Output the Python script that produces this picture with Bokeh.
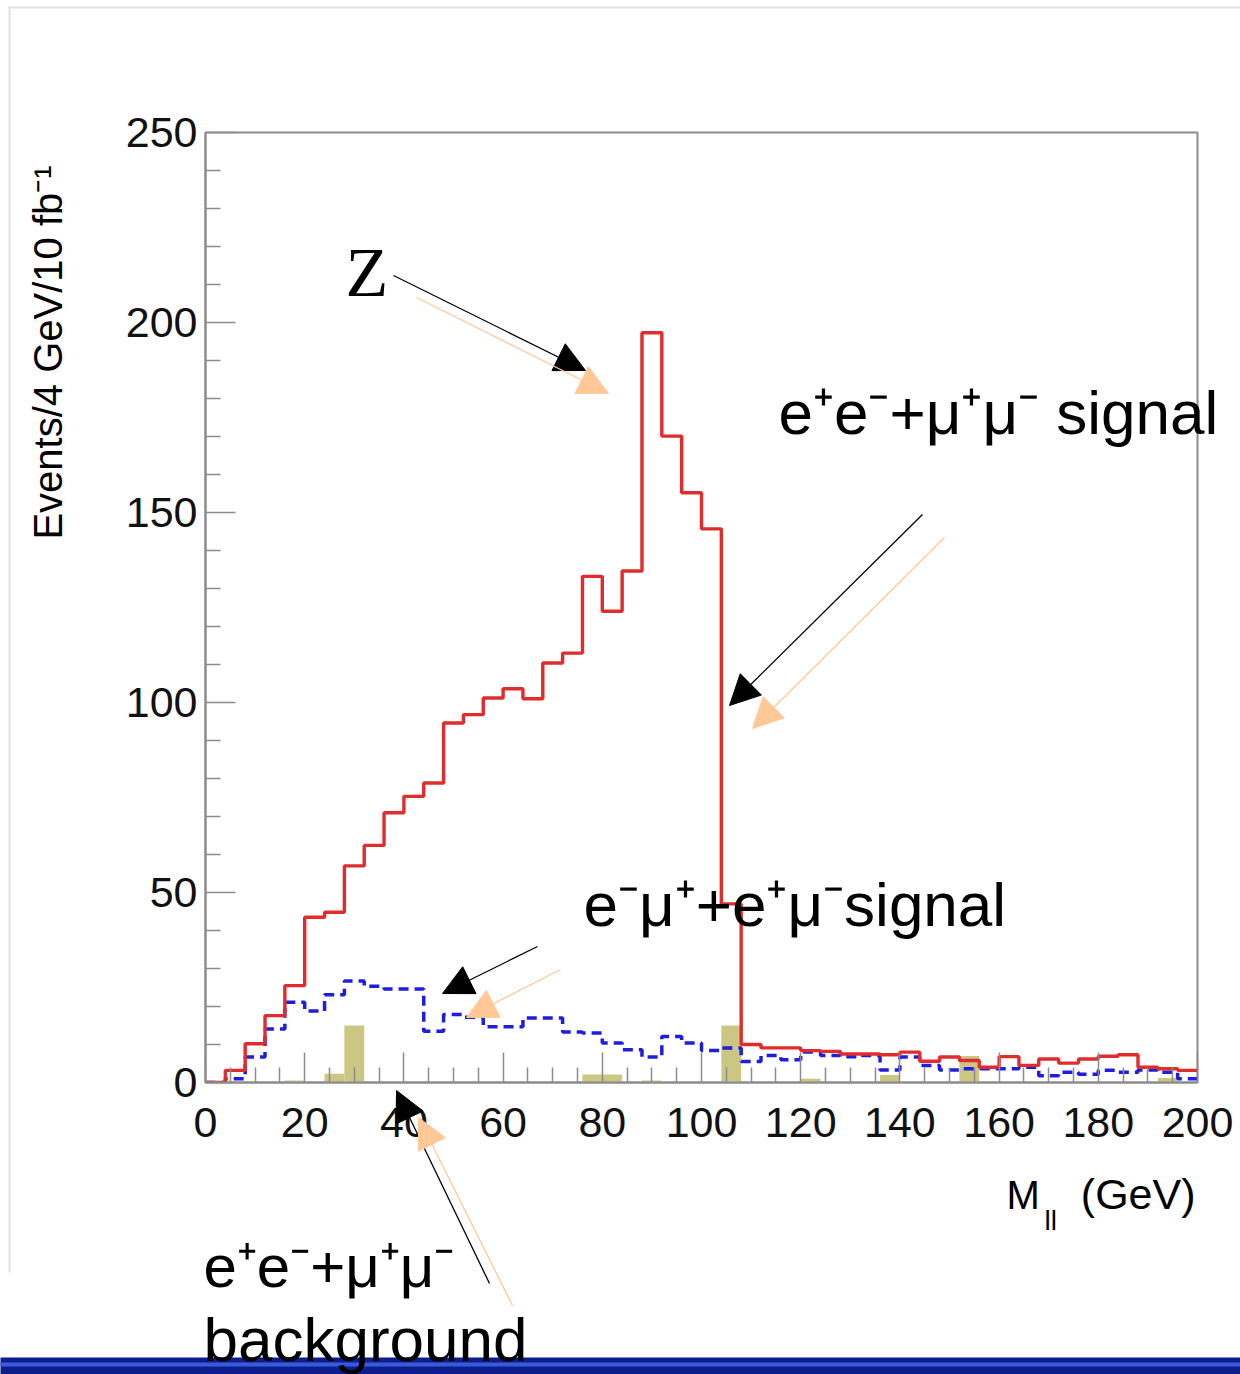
import math
from bokeh.plotting import figure
from bokeh.layouts import column
from bokeh.models import Range1d, FixedTicker, Label, Arrow, NormalHead, BoxAnnotation
from bokeh.embed import file_html
from bokeh.resources import INLINE

# ---------------- data ----------------
bin_edges = list(range(0, 204, 4))  # 4 GeV bins, 0..200

signal_ll = [0.0, 3.2, 10.2, 17.6, 25.5, 43.5, 44.8, 57.0, 62.4, 71.0,
             75.3, 78.8, 94.6, 96.8, 101.2, 103.6, 101.0, 110.4, 113.0, 133.2,
             124.0, 134.6, 197.3, 170.1, 155.2, 145.7, 47.0, 10.0, 9.1, 9.1,
             8.4, 8.2, 7.5, 7.5, 7.3, 8.0, 5.6, 6.7, 5.8, 4.0,
             6.8, 4.5, 6.2, 5.1, 6.2, 6.9, 7.3, 4.0, 3.6, 3.2]

signal_emu = [0.0, 1.0, 6.7, 14.1, 21.1, 18.8, 23.1, 26.7, 25.3, 24.6,
              24.6, 13.5, 17.9, 17.2, 14.7, 14.7, 17.0, 17.0, 13.3, 13.0,
              10.4, 8.6, 6.7, 12.1, 10.4, 8.4, 9.1, 5.5, 7.1, 6.0,
              8.0, 7.1, 6.8, 7.1, 3.3, 6.7, 4.5, 3.3, 3.6, 3.6,
              3.6, 4.0, 1.8, 2.7, 2.2, 3.2, 2.7, 3.3, 2.7, 1.0]

background_ll = [0, 0, 0, 0, 0.5, 0, 2.3, 15.0, 0, 0,
                 0, 0, 0, 0, 0, 0, 0, 0, 0, 2.1,
                 2.1, 0, 0.5, 0, 0, 0, 15.0, 0, 0, 0,
                 1.0, 0, 0, 0, 2.0, 0, 0, 0, 7.0, 0,
                 0, 0, 0, 0, 0, 0, 0, 0, 1.2, 0]

x_ticks = [0, 20, 40, 60, 80, 100, 120, 140, 160, 180, 200]
y_ticks = [0, 50, 100, 150, 200, 250]
x_minor = [v for v in range(0, 201, 5) if v % 20]
y_minor = [v for v in range(0, 251, 10) if v % 50]

# ---------------- layout helpers (picture pixels -> data) ----------------
W, H = 1240, 1374
FX0, FX1, FY0, FY1 = 205, 1197, 1082, 132


def dx(px):
    return (px - FX0) / ((FX1 - FX0) / 200.0)


def dy(py):
    return (FY0 - py) / ((FY0 - FY1) / 250.0)


# ---------------- base figure: axes + histograms ----------------
p = figure(width=W, height=H, x_range=Range1d(0, 200), y_range=Range1d(0, 250),
           output_backend="svg", toolbar_location=None,
           min_border_left=FX0, min_border_right=W - FX1,
           min_border_top=FY1, min_border_bottom=H - FY0)
p.frame_align = False
p.xgrid.visible = False
p.ygrid.visible = False
p.background_fill_color = "white"
p.border_fill_color = "white"
p.outline_line_color = "#8c8c8c"
p.outline_line_width = 2

lefts = bin_edges[:-1]
rights = bin_edges[1:]
p.quad(left=lefts, right=rights, bottom=0, top=background_ll,
       fill_color="#c9c37c", fill_alpha=0.95, line_color=None)
p.step(x=bin_edges, y=signal_emu + [signal_emu[-1]], mode="after",
       line_color="#1e1ee0", line_width=3.5, line_dash="10 6")
p.step(x=bin_edges, y=signal_ll + [signal_ll[-1]], mode="after",
       line_color="#e02c2c", line_width=3.4)

p.xaxis.ticker = FixedTicker(ticks=x_ticks, minor_ticks=x_minor)
p.yaxis.ticker = FixedTicker(ticks=y_ticks, minor_ticks=y_minor)
for ax in (p.xaxis[0], p.yaxis[0]):
    ax.axis_line_color = "#8c8c8c"
    ax.axis_line_width = 2
    ax.major_tick_in = 30
    ax.major_tick_out = 0
    ax.minor_tick_in = 15
    ax.minor_tick_out = 0
    ax.major_tick_line_color = "#8c8c8c"
    ax.minor_tick_line_color = "#8c8c8c"
    ax.major_tick_line_width = 1.5
    ax.minor_tick_line_width = 1.5
    ax.major_label_text_font = "Liberation Sans"
    ax.major_label_text_font_size = "43px"
    ax.major_label_text_color = "#111111"
p.xaxis.major_label_standoff = 25
p.yaxis.major_label_standoff = 8

# ---------------- overlay figure: texts and arrows (whole canvas is its frame) ----------------
q = figure(width=W, height=H, x_range=Range1d(dx(0), dx(W)), y_range=Range1d(dy(H), dy(0)),
           output_backend="svg", toolbar_location=None,
           x_axis_location=None, y_axis_location=None,
           min_border=0, margin=(-H, 0, 0, 0))
q.frame_align = False
q.xgrid.visible = False
q.ygrid.visible = False
q.background_fill_alpha = 0
q.border_fill_alpha = 0
q.outline_line_color = None

# faint edge of the inset picture (top and left) and the slide band at the bottom
q.add_layout(BoxAnnotation(left=dx(8), right=dx(1250), top=dy(6), bottom=dy(8),
                           fill_color="#e2e2e2", fill_alpha=1, line_color=None))
q.add_layout(BoxAnnotation(left=dx(8), right=dx(10), top=dy(6), bottom=dy(1272),
                           fill_color="#e2e2e2", fill_alpha=1, line_color=None))
q.add_layout(BoxAnnotation(left=dx(-5), right=dx(1250), top=dy(1357), bottom=dy(1380),
                           fill_color="#0c1d8e", fill_alpha=1, line_color=None))
q.add_layout(BoxAnnotation(left=dx(-5), right=dx(1250), top=dy(1362), bottom=dy(1366),
                           fill_color="#3a5ad8", fill_alpha=1, line_color=None))

BASE_SHIFT = 0.37  # alphabetic baseline correction, in em


def add_label(text, px, py, size, font="Liberation Sans", align="left", angle=0.0):
    if angle == 0.0:
        py = py - BASE_SHIFT * size
    else:
        px = px - BASE_SHIFT * size
    q.add_layout(Label(x=dx(px), y=dy(py), text=text, text_font=font,
                       text_font_size=f"{size}px", text_color="black", text_align=align,
                       text_baseline="alphabetic", angle=angle))


# axis titles
add_label("Events/4 GeV/10 fb\u207b\u00b9", 62, 352, 40, align="center", angle=math.pi / 2)
add_label("M", 1006, 1209, 40)
add_label("ll", 1044, 1230, 28)
add_label("(GeV)", 1195, 1209, 43, align="right")

# annotations
add_label("Z", 345, 298, 70, font="Liberation Serif")
add_label("e\u207ae\u207b+\u03bc\u207a\u03bc\u207b signal", 778, 435, 62)
add_label("e\u207b\u03bc\u207a+e\u207a\u03bc\u207bsignal", 583, 927, 62)
add_label("e\u207ae\u207b+\u03bc\u207a\u03bc\u207b", 203, 1288, 60)
add_label("background", 203, 1362, 62)


def add_arrow(x0, y0, x1, y1, color):
    q.add_layout(Arrow(x_start=dx(x0), y_start=dy(y0), x_end=dx(x1), y_end=dy(y1),
                       line_color=color, line_width=1.3,
                       end=NormalHead(size=30, fill_color=color, line_color=color)))


PEACH = "#ffc896"
add_arrow(393, 275, 585, 370, "black")
add_arrow(416, 297, 608, 393, PEACH)
add_arrow(922, 514, 729, 705, "black")
add_arrow(944, 537, 752, 728, PEACH)
add_arrow(537, 946, 442, 993, "black")
add_arrow(560, 969, 466, 1017, PEACH)
add_arrow(489, 1283, 396, 1090, "black")
add_arrow(512, 1305, 418, 1117, PEACH)

layout = column(p, q, spacing=0)
open("out.html", "w").write(file_html(layout, INLINE))
